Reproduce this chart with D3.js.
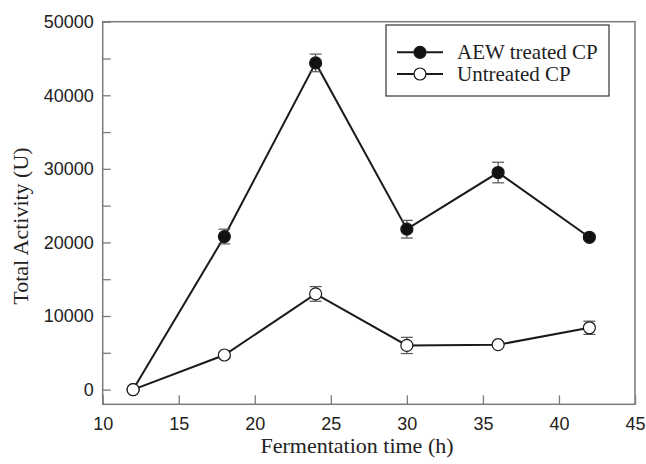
<!DOCTYPE html>
<html>
<head>
<meta charset="utf-8">
<script src="https://cdn.jsdelivr.net/npm/d3@7"></script>
<style>
  html, body { margin: 0; padding: 0; background: #fff; }
  svg { display: block; }
</style>
</head>
<body>
<svg id="chart" width="646" height="464"></svg>
<script>
// ---- data ----
const times = [12, 18, 24, 30, 36, 42];
const aewValues = [0, 20800, 44400, 21800, 29500, 20700];
const aewErrors = [0, 1000, 1200, 1200, 1400, 300];
const untreatedValues = [0, 4700, 13000, 6000, 6100, 8400];
const untreatedErrors = [0, 300, 1000, 1100, 300, 900];
const xTicks = [10, 15, 20, 25, 30, 35, 40, 45];
const yTicks = [0, 5000, 10000, 15000, 20000, 25000, 30000, 35000, 40000, 45000, 50000];
const seriesNames = ["AEW treated CP", "Untreated CP"];

// ---- layout ----
const svg = d3.select("#chart");
const L = 102.7, R = 635, T = 21.7, B = 404.3;
const x = d3.scaleLinear().domain([10, 45]).range([L, R]);
const y = d3.scaleLinear().domain([-2000, 50000]).range([B, T]);

const frameColor = "#7a7a7a";
const sans = "'Liberation Sans', Arial, sans-serif";
const serif = "'Liberation Serif', 'Times New Roman', serif";

// axes
const xAxis = d3.axisBottom(x).tickValues(xTicks).tickSizeInner(-9).tickSizeOuter(0).tickPadding(13).tickFormat(d3.format("d"));
const gx = svg.append("g").attr("transform", `translate(0,${B})`).call(xAxis);
const yAxis = d3.axisLeft(y).tickValues(yTicks).tickSizeInner(-8).tickSizeOuter(0).tickPadding(9)
  .tickFormat(d => d % 10000 === 0 ? String(d) : "");
const gy = svg.append("g").attr("transform", `translate(${L},0)`).call(yAxis);

[gx, gy].forEach(g => {
  g.select(".domain").remove();
  g.selectAll(".tick line").attr("stroke", frameColor).attr("stroke-width", 1.3);
  g.selectAll(".tick text").attr("fill", "#222").style("font-family", sans).style("font-size", "18px");
});

// frame
svg.append("rect").attr("x", L).attr("y", T).attr("width", R - L).attr("height", B - T)
  .attr("fill", "none").attr("stroke", frameColor).attr("stroke-width", 1.5);

// axis titles
svg.append("text").attr("x", 357).attr("y", 453).attr("text-anchor", "middle")
  .style("font-family", serif).style("font-size", "22px").attr("fill", "#222")
  .text("Fermentation time (h)");
svg.append("text").attr("transform", "translate(28,226) rotate(-90)").attr("text-anchor", "middle")
  .style("font-family", serif).style("font-size", "22px").attr("fill", "#222")
  .text("Total Activity (U)");

// series
const series = [
  { name: seriesNames[0], values: aewValues, errors: aewErrors, fill: "#111" },
  { name: seriesNames[1], values: untreatedValues, errors: untreatedErrors, fill: "#fff" }
];
const line = d3.line().x(d => x(d.t)).y(d => y(d.v));

series.forEach(s => {
  const pts = times.map((t, i) => ({ t, v: s.values[i], e: s.errors[i] }));
  svg.append("path").datum(pts).attr("d", line).attr("fill", "none")
    .attr("stroke", "#1a1a1a").attr("stroke-width", 2);
  const eb = svg.append("g").attr("stroke", "#555").attr("stroke-width", 1.2);
  pts.filter(p => p.e > 0).forEach(p => {
    eb.append("line").attr("x1", x(p.t)).attr("x2", x(p.t)).attr("y1", y(p.v - p.e)).attr("y2", y(p.v + p.e));
    eb.append("line").attr("x1", x(p.t) - 6).attr("x2", x(p.t) + 6).attr("y1", y(p.v + p.e)).attr("y2", y(p.v + p.e));
    eb.append("line").attr("x1", x(p.t) - 6).attr("x2", x(p.t) + 6).attr("y1", y(p.v - p.e)).attr("y2", y(p.v - p.e));
  });
  svg.append("g").selectAll("circle").data(pts).join("circle")
    .attr("cx", d => x(d.t)).attr("cy", d => y(d.v)).attr("r", 6)
    .attr("fill", s.fill).attr("stroke", "#1a1a1a").attr("stroke-width", 1.2);
});

// legend
const lg = svg.append("g");
lg.append("rect").attr("x", 386).attr("y", 25).attr("width", 223).attr("height", 71)
  .attr("fill", "#fff").attr("stroke", "#333").attr("stroke-width", 1.2);
series.forEach((s, i) => {
  const ly = 52.3 + i * 21.7;
  lg.append("line").attr("x1", 397).attr("x2", 443).attr("y1", ly).attr("y2", ly)
    .attr("stroke", "#1a1a1a").attr("stroke-width", 2);
  lg.append("circle").attr("cx", 420).attr("cy", ly).attr("r", 6)
    .attr("fill", s.fill).attr("stroke", "#1a1a1a").attr("stroke-width", 1.2);
  lg.append("text").attr("x", 457).attr("y", ly + 7)
    .style("font-family", serif).style("font-size", "21px").attr("fill", "#222")
    .text(s.name);
});
</script>
</body>
</html>
